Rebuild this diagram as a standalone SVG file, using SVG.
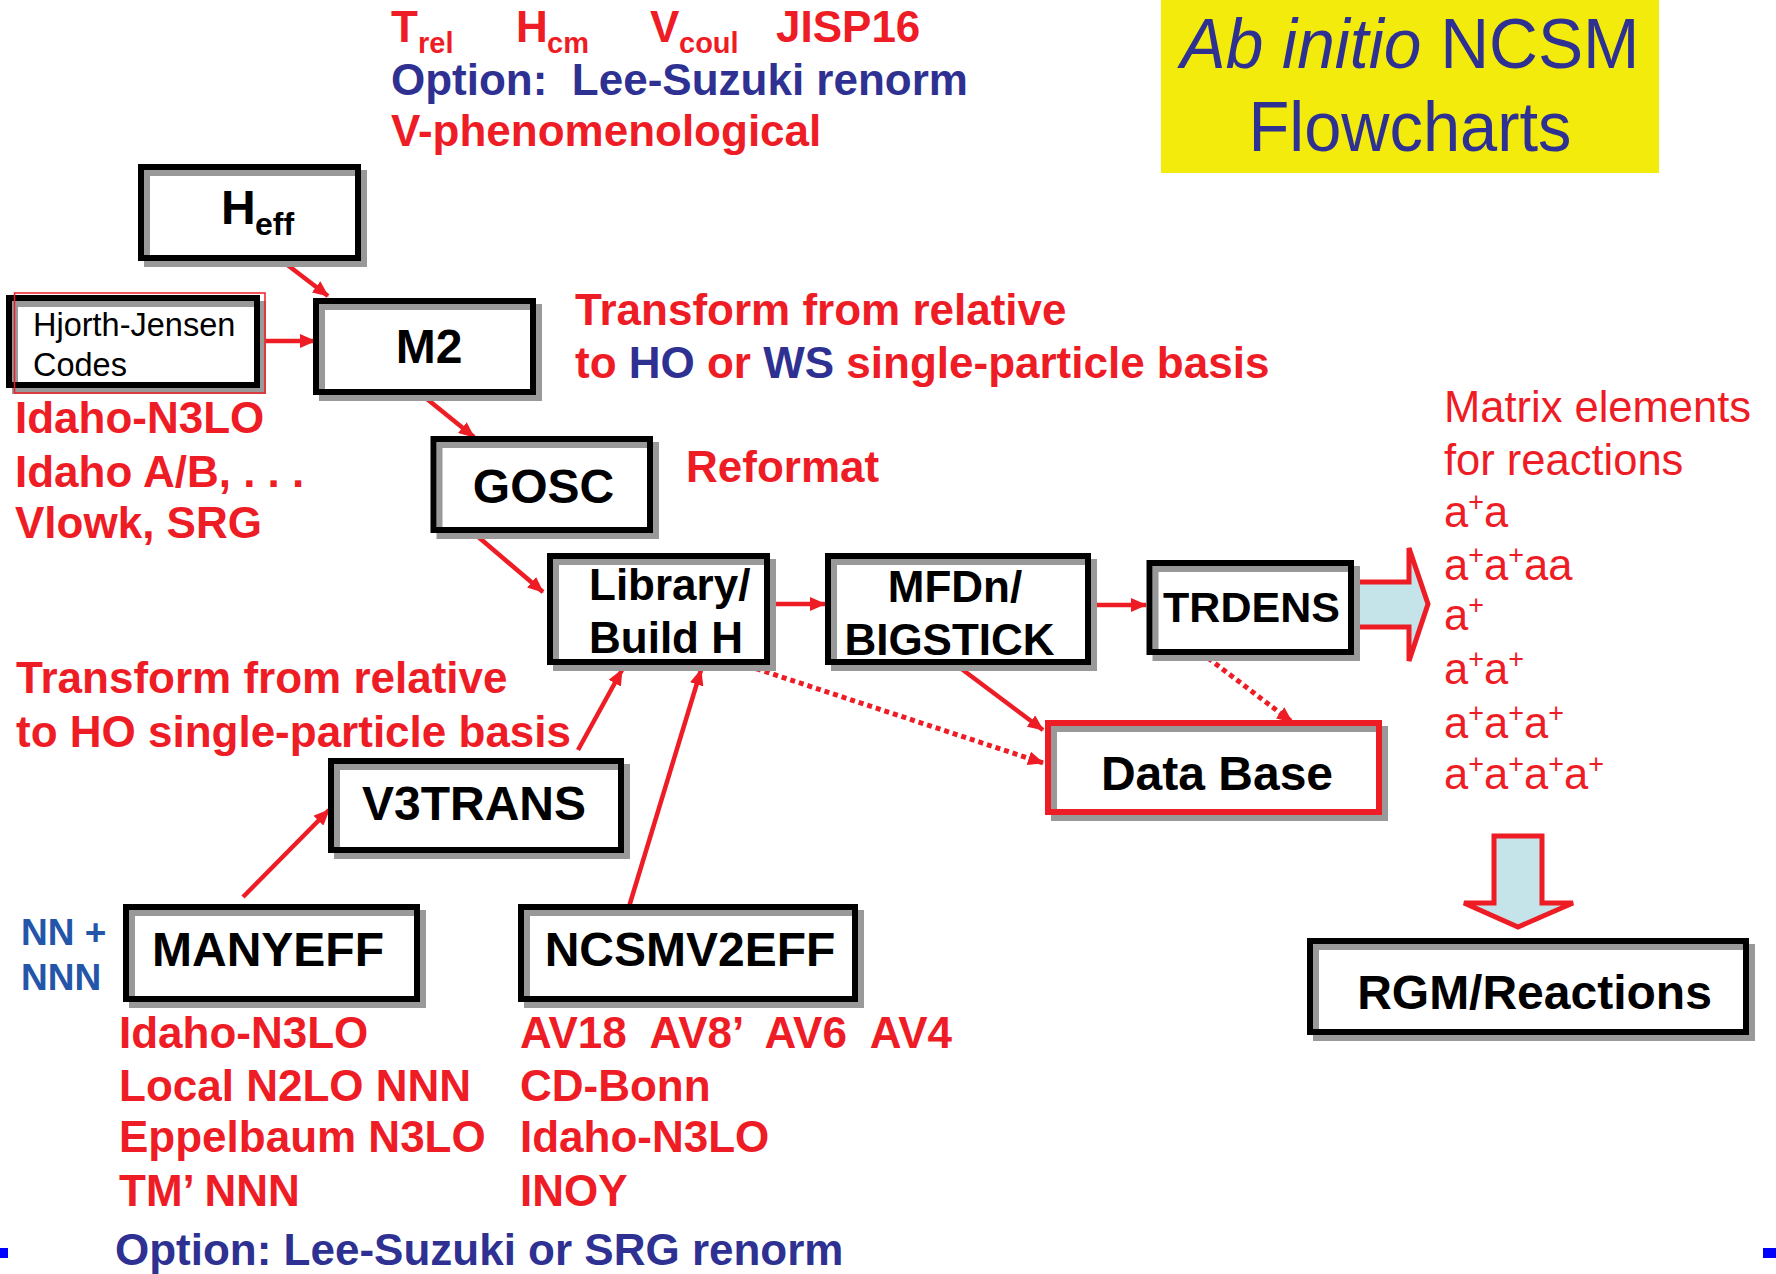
<svg xmlns="http://www.w3.org/2000/svg" width="1776" height="1274" viewBox="0 0 1776 1274">
<defs>
<style>
.bx{fill:none;stroke:#000;stroke-width:6}
.sh{fill:none;stroke:#999;stroke-width:6}
.lbl{font-family:"Liberation Sans",Arial,sans-serif;font-weight:bold;font-size:48px;fill:#000}
.red{font-family:"Liberation Sans",Arial,sans-serif;font-weight:bold;font-size:44px;fill:#ee1c25}
.navy{font-family:"Liberation Sans",Arial,sans-serif;font-weight:bold;font-size:44px;fill:#2e3192}
.rr{font-family:"Liberation Sans",Arial,sans-serif;font-size:43.5px;fill:#ee1c25}
.sup{font-size:27px}
.sub{font-size:29px}
.con{stroke:#ee1c25;stroke-width:4.5;fill:none}
.dot{stroke:#ee1c25;stroke-width:5;fill:none;stroke-dasharray:5 4}
</style>
<marker id="ah" markerUnits="userSpaceOnUse" markerWidth="16" markerHeight="14" refX="15" refY="7" orient="auto">
<path d="M0,0 L16,7 L0,14 z" fill="#ee1c25"/>
</marker>
</defs>
<rect width="1776" height="1274" fill="#fff"/>

<g id="title">
<rect x="1161" y="0" width="498" height="173" fill="#f2eb0c"/>
<text x="1410" y="68" text-anchor="middle" font-family="'Liberation Sans',Arial,sans-serif" font-size="70" fill="#2e3192" textLength="459" lengthAdjust="spacingAndGlyphs"><tspan font-style="italic">Ab initio</tspan> NCSM</text>
<text x="1410" y="151" text-anchor="middle" font-family="'Liberation Sans',Arial,sans-serif" font-size="70" fill="#2e3192" textLength="323" lengthAdjust="spacingAndGlyphs">Flowcharts</text>
</g>

<g id="top-notes">
<text class="red" x="391" y="42">T<tspan class="sub" x="418" y="53">rel</tspan><tspan x="516" y="42">H</tspan><tspan class="sub" x="547" y="53">cm</tspan><tspan x="650" y="42">V</tspan><tspan class="sub" x="679" y="53">coul</tspan><tspan x="776" y="42">JISP16</tspan></text>
<text class="navy" x="391" y="95" xml:space="preserve">Option:  Lee-Suzuki renorm</text>
<text class="red" x="391" y="146">V-phenomenological</text>
</g>

<g id="connectors">
<line class="con" x1="281" y1="260" x2="328" y2="296" marker-end="url(#ah)"/>
<line class="con" x1="257" y1="341" x2="315" y2="341" marker-end="url(#ah)"/>
<line class="con" x1="427" y1="399" x2="474" y2="437" marker-end="url(#ah)"/>
<line class="con" x1="476" y1="535" x2="543" y2="592" marker-end="url(#ah)"/>
<line class="con" x1="769" y1="604" x2="825" y2="604" marker-end="url(#ah)"/>
<line class="con" x1="1091" y1="605" x2="1146" y2="605" marker-end="url(#ah)"/>
<line class="dot" x1="739" y1="663" x2="1043" y2="763" marker-end="url(#ah)"/>
<line class="con" x1="959" y1="667" x2="1043" y2="730" marker-end="url(#ah)"/>
<line class="dot" x1="1208" y1="658" x2="1292" y2="722" marker-end="url(#ah)"/>
<line class="con" x1="578" y1="750" x2="622" y2="670" marker-end="url(#ah)"/>
<line class="con" x1="628" y1="910" x2="701" y2="670" marker-end="url(#ah)"/>
<line class="con" x1="243" y1="897" x2="329" y2="810" marker-end="url(#ah)"/>
<polygon points="1354,582 1409,582 1409,548 1428,604 1409,661 1409,627 1354,627" fill="#c4e4ea" stroke="#ee1c25" stroke-width="5"/>
<polygon points="1494,836 1542,836 1542,903 1573,903 1518,927 1464,903 1494,903" fill="#c4e4ea" stroke="#ee1c25" stroke-width="5"/>
</g>

<g id="heff">
<rect class="sh" x="147" y="173" width="217" height="91"/>
<rect class="bx" x="141" y="167" width="217" height="91"/>
<text class="lbl" x="221" y="224">H<tspan x="255" y="235" style="font-size:32px">eff</tspan></text>
</g>

<g id="hjorth">
<rect class="sh" x="15" y="304" width="248" height="87"/>
<rect class="bx" x="9" y="298" width="248" height="87"/>
<rect x="14.5" y="293" width="250.5" height="100" fill="none" stroke="#ee1c25" stroke-width="1.5"/>
<text x="33" y="336" font-family="'Liberation Sans',Arial,sans-serif" font-size="32.5" fill="#000">Hjorth-Jensen</text>
<text x="33" y="376" font-family="'Liberation Sans',Arial,sans-serif" font-size="32.5" fill="#000">Codes</text>
</g>

<g id="m2">
<rect class="sh" x="322" y="307" width="217" height="91"/>
<rect class="bx" x="316" y="301" width="217" height="91"/>
<text class="lbl" x="429" y="363" text-anchor="middle">M2</text>
</g>

<g id="gosc">
<rect class="sh" x="439.5" y="445" width="216.5" height="91"/>
<rect class="bx" x="433.5" y="439" width="216.5" height="91"/>
<text class="lbl" x="543.5" y="503" text-anchor="middle">GOSC</text>
</g>

<g id="library">
<rect class="sh" x="556" y="562" width="217" height="106"/>
<rect class="bx" x="550" y="556" width="217" height="106"/>
<text class="lbl" x="589" y="600" style="font-size:44px">Library/</text>
<text class="lbl" x="589" y="653" style="font-size:44px">Build H</text>
</g>

<g id="mfdn">
<rect class="sh" x="834" y="562" width="260" height="106"/>
<rect class="bx" x="828" y="556" width="260" height="106"/>
<text class="lbl" x="955" y="602" style="font-size:44px" text-anchor="middle">MFDn/</text>
<text class="lbl" x="949.5" y="655" style="font-size:44px" text-anchor="middle">BIGSTICK</text>
</g>

<g id="trdens">
<rect class="sh" x="1155.5" y="569" width="201.5" height="89"/>
<rect class="bx" x="1149.5" y="563" width="201.5" height="89"/>
<text class="lbl" x="1251.5" y="622" style="font-size:43px" text-anchor="middle">TRDENS</text>
</g>

<g id="database">
<rect class="sh" x="1054" y="729" width="331" height="89"/>
<rect x="1048" y="723" width="331" height="89" fill="none" stroke="#ee1c25" stroke-width="6"/>
<text class="lbl" x="1217" y="790" text-anchor="middle">Data Base</text>
</g>

<g id="v3trans">
<rect class="sh" x="337" y="767" width="290" height="89"/>
<rect class="bx" x="331" y="761" width="290" height="89"/>
<text class="lbl" x="474" y="820" text-anchor="middle">V3TRANS</text>
</g>

<g id="manyeff">
<rect class="sh" x="132" y="913" width="291" height="92"/>
<rect class="bx" x="126" y="907" width="291" height="92"/>
<text class="lbl" x="268" y="966" text-anchor="middle">MANYEFF</text>
</g>

<g id="ncsmv2eff">
<rect class="sh" x="527" y="913" width="334" height="92"/>
<rect class="bx" x="521" y="907" width="334" height="92"/>
<text class="lbl" x="690" y="966" text-anchor="middle">NCSMV2EFF</text>
</g>

<g id="rgm">
<rect class="sh" x="1316" y="947" width="436" height="91"/>
<rect class="bx" x="1310" y="941" width="436" height="91"/>
<text class="lbl" x="1534.5" y="1009" text-anchor="middle">RGM/Reactions</text>
</g>

<g id="notes">
<text class="red" x="575" y="325">Transform from relative</text>
<text class="red" x="575" y="378">to <tspan fill="#2e3192">HO</tspan> or <tspan fill="#2e3192">WS</tspan> single-particle basis</text>
<text class="red" x="686" y="482">Reformat</text>
<text class="red" x="15" y="433">Idaho-N3LO</text>
<text class="red" x="15" y="487">Idaho A/B, . . .</text>
<text class="red" x="15" y="538">Vlowk, SRG</text>
<text class="red" x="16" y="693">Transform from relative</text>
<text class="red" x="16" y="747">to HO single-particle basis</text>
<text class="navy" x="21" y="945" style="font-size:37px;fill:#2355a8">NN +</text>
<text class="navy" x="21" y="990" style="font-size:37px;fill:#2355a8">NNN</text>
<text class="red" x="119" y="1048">Idaho-N3LO</text>
<text class="red" x="119" y="1101">Local N2LO NNN</text>
<text class="red" x="119" y="1152">Eppelbaum N3LO</text>
<text class="red" x="119" y="1206">TM’ NNN</text>
<text class="red" x="520" y="1048" xml:space="preserve">AV18  AV8’  AV6  AV4</text>
<text class="red" x="520" y="1101">CD-Bonn</text>
<text class="red" x="520" y="1152">Idaho-N3LO</text>
<text class="red" x="520" y="1206">INOY</text>
<text class="navy" x="115" y="1265">Option: Lee-Suzuki or SRG renorm</text>
<text class="rr" x="1444" y="422">Matrix elements</text>
<text class="rr" x="1444" y="475">for reactions</text>
<text class="rr" x="1444" y="527">a<tspan class="sup" dy="-16">+</tspan><tspan dy="16">a</tspan></text>
<text class="rr" x="1444" y="580">a<tspan class="sup" dy="-16">+</tspan><tspan dy="16">a</tspan><tspan class="sup" dy="-16">+</tspan><tspan dy="16">aa</tspan></text>
<text class="rr" x="1444" y="630">a<tspan class="sup" dy="-16">+</tspan></text>
<text class="rr" x="1444" y="684">a<tspan class="sup" dy="-16">+</tspan><tspan dy="16">a</tspan><tspan class="sup" dy="-16">+</tspan></text>
<text class="rr" x="1444" y="738">a<tspan class="sup" dy="-16">+</tspan><tspan dy="16">a</tspan><tspan class="sup" dy="-16">+</tspan><tspan dy="16">a</tspan><tspan class="sup" dy="-16">+</tspan></text>
<text class="rr" x="1444" y="789">a<tspan class="sup" dy="-16">+</tspan><tspan dy="16">a</tspan><tspan class="sup" dy="-16">+</tspan><tspan dy="16">a</tspan><tspan class="sup" dy="-16">+</tspan><tspan dy="16">a</tspan><tspan class="sup" dy="-16">+</tspan></text>
</g>

<g id="slide-marks">
<rect x="0" y="1248" width="8" height="10" fill="#0000ff"/>
<rect x="1763" y="1248" width="13" height="10" fill="#0000ff"/>
</g>
</svg>
